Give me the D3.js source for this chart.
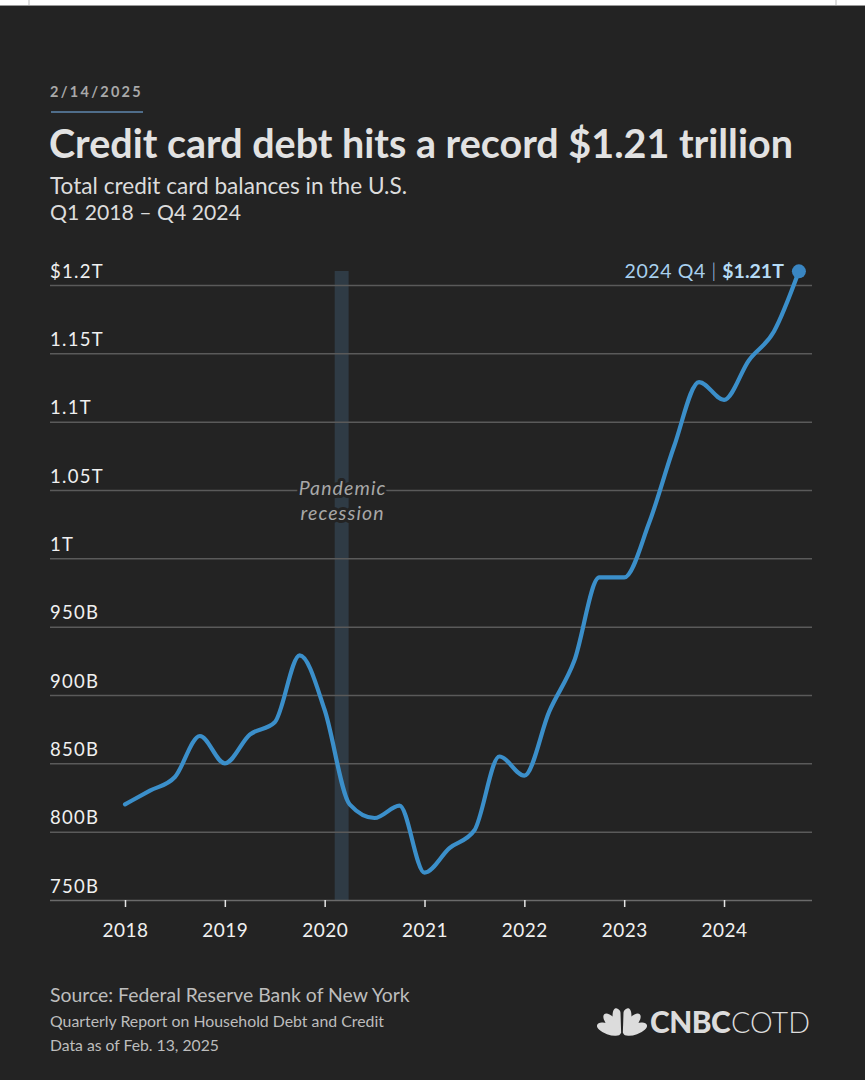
<!DOCTYPE html>
<html>
<head>
<meta charset="utf-8">
<script src="https://cdn.jsdelivr.net/npm/d3@7"></script>
<style>
  html, body { margin: 0; padding: 0; background: #fff; }
  svg { display: block; }
  text { font-family: Lato, "Open Sans", sans-serif; }
</style>
</head>
<body>
<svg id="chart" width="865" height="1080"></svg>
<script>
// ---------------- DATA ----------------
const years = [2018, 2019, 2020, 2021, 2022, 2023, 2024];
const quarters = ["Q1", "Q2", "Q3", "Q4"];
// Total credit card balances, billions of dollars, Q1 2018 – Q4 2024
const balances = [
  820, 830, 840, 870,
  850, 871, 880, 929,
  889, 820, 810, 819,
  770, 788, 801, 855,
  841, 888, 925, 986,
  986, 1026, 1082, 1129,
  1116, 1145, 1166, 1210
];
const yTicks = [750, 800, 850, 900, 950, 1000, 1050, 1100, 1150, 1200];
const yTickLabels = ["750B", "800B", "850B", "900B", "950B", "1T", "1.05T", "1.1T", "1.15T", "$1.2T"];
const recession = [2020.1, 2020.24];
const lastLabel = "2024 Q4";
const lastValueLabel = "$1.21T";

// build rows
const rows = balances.map((v, i) => ({
  t: years[0] + Math.floor(i / 4) + (i % 4) / 4,
  label: (years[0] + Math.floor(i / 4)) + " " + quarters[i % 4],
  v
}));

// ---------------- LAYOUT ----------------
const svg = d3.select("#chart");
const W = 865, H = 1080;
const BG = "#232323";

// top white strip
svg.append("rect").attr("x", 0).attr("y", 0).attr("width", W).attr("height", 6).attr("fill", "#ffffff");
svg.append("line").attr("x1", 29).attr("x2", 29).attr("y1", 0).attr("y2", 6).attr("stroke", "#bbb").attr("stroke-width", 1);
svg.append("line").attr("x1", 836).attr("x2", 836).attr("y1", 0).attr("y2", 6).attr("stroke", "#bbb").attr("stroke-width", 1);
svg.append("rect").attr("x", 0).attr("y", 6).attr("width", W).attr("height", H - 6).attr("fill", BG);
svg.append("line").attr("x1", 0).attr("x2", W).attr("y1", 5.5).attr("y2", 5.5).attr("stroke", "#999").attr("stroke-width", 1);

function fit(sel, target) {
  const n = sel.node();
  const w = n.getComputedTextLength();
  const fs = parseFloat(sel.attr("font-size"));
  sel.attr("font-size", (fs * target / w).toFixed(2));
}
// widen via letter-spacing to reach a target width
function spread(sel, target) {
  sel.each(function () {
    const t = d3.select(this);
    t.attr("letter-spacing", 0);
    const w = this.getComputedTextLength();
    const n = this.textContent.length;
    t.attr("letter-spacing", ((target(this.textContent) - w) / n).toFixed(2));
  });
}

// ---------------- HEADER ----------------
const date = svg.append("text").attr("x", 50).attr("y", 97)
  .attr("font-size", 14.5).attr("font-weight", 700).attr("fill", "#a9a9a9")
  .text("2/14/2025");
spread(date, () => 93);
svg.append("rect").attr("x", 51).attr("y", 111).attr("width", 92).attr("height", 2).attr("fill", "#4f6d8a");

const title = svg.append("text").attr("x", 49).attr("y", 158)
  .attr("font-size", 34).attr("font-weight", 700).attr("fill", "#e2e2e2")
  .text("Credit card debt hits a record $1.21 trillion");
fit(title, 744);

const sub1 = svg.append("text").attr("x", 50).attr("y", 194)
  .attr("font-size", 19).attr("fill", "#dcdcdc").text("Total credit card balances in the U.S.");
fit(sub1, 357);
const sub2 = svg.append("text").attr("x", 50).attr("y", 220)
  .attr("font-size", 19).attr("fill", "#dcdcdc").text("Q1 2018 \u2013 Q4 2024");
fit(sub2, 191);

// ---------------- SCALES ----------------
const x = d3.scaleLinear().domain([2018, 2024.75]).range([125, 798.9]);
const y = d3.scaleLinear().domain([750, 1200]).range([900, 285]);
const gridLeft = 50, gridRight = 812;

// recession band
svg.append("rect")
  .attr("x", x(recession[0])).attr("width", x(recession[1]) - x(recession[0]))
  .attr("y", 271).attr("height", y(750) - 271)
  .attr("fill", "#2f3b45");

// y grid + labels
const yAxis = d3.axisLeft(y)
  .tickValues(yTicks)
  .tickFormat((d, i) => yTickLabels[i])
  .tickSize(-(gridRight - gridLeft));
const gy = svg.append("g").attr("transform", `translate(${gridLeft},0)`).call(yAxis);
gy.select(".domain").remove();
gy.selectAll(".tick line").attr("stroke", "#5a5a5a").attr("stroke-width", 1.5);
const yLabels = gy.selectAll(".tick text")
  .attr("x", 0).attr("dy", null).attr("y", -8)
  .attr("text-anchor", "start")
  .attr("font-family", "Lato, sans-serif")
  .attr("font-size", 18.5).attr("fill", "#f0f0f0");
// widen labels to the reference's wide typeface
yLabels.each(function () {
  const t = d3.select(this);
  const n = this.textContent.length;
  t.attr("letter-spacing", 1.3);
});
gy.selectAll(".tick").filter(d => d === 750).select("line").attr("stroke", "#6a6a6a");

// x axis
const xAxis = d3.axisBottom(x).tickValues(years).tickFormat(d3.format("d")).tickSize(7).tickPadding(0);
const gx = svg.append("g").attr("transform", `translate(0,${y(750)})`).call(xAxis);
gx.select(".domain").remove();
gx.selectAll(".tick line").attr("stroke", "#e6e6e6").attr("stroke-width", 1.5);
gx.selectAll(".tick text")
  .attr("y", 37).attr("dy", null)
  .attr("font-family", "Lato, sans-serif")
  .attr("font-size", 19).attr("fill", "#f0f0f0")
  .attr("letter-spacing", 0.5);

// pandemic label
const px = x(2020.17) + 1;
const pl = svg.append("text").attr("x", px).attr("text-anchor", "middle")
  .attr("font-size", 19.5).attr("font-style", "italic").attr("fill", "#a8a8a8")
  .attr("letter-spacing", 1.1)
  .attr("stroke", BG).attr("stroke-width", 6).attr("paint-order", "stroke")
  .attr("stroke-linejoin", "round");
pl.append("tspan").attr("x", px).attr("y", 495).text("Pandemic");
pl.append("tspan").attr("x", px).attr("y", 520).text("recession");

// ---------------- LINE ----------------
const line = d3.line().x(d => x(d.t)).y(d => y(d.v)).curve(d3.curveMonotoneX);
svg.append("path").datum(rows)
  .attr("d", line)
  .attr("fill", "none")
  .attr("stroke", "#3b8fca")
  .attr("stroke-width", 4.2)
  .attr("stroke-linejoin", "round")
  .attr("stroke-linecap", "round");

const last = rows[rows.length - 1];
svg.append("circle").attr("cx", x(last.t)).attr("cy", y(last.v)).attr("r", 7).attr("fill", "#3a86c2");

const ann = svg.append("text").attr("x", x(last.t) - 15).attr("y", y(last.v) + 7)
  .attr("text-anchor", "end").attr("font-size", 19.5).attr("fill", "#a8d0ee")
  .attr("letter-spacing", 0.6);
ann.append("tspan").text(lastLabel + " ");
ann.append("tspan").attr("fill", "#a8d0ee").attr("font-weight", 300).text("|");
ann.append("tspan").text(" ");
ann.append("tspan").attr("font-weight", 700).attr("fill", "#b6dbf5").attr("letter-spacing", 0).text(lastValueLabel);

// ---------------- FOOTER ----------------
const s1 = svg.append("text").attr("x", 50).attr("y", 1002).attr("font-size", 17)
  .attr("fill", "#bdbdbd").text("Source: Federal Reserve Bank of New York");
fit(s1, 360);
const s2 = svg.append("text").attr("x", 50).attr("y", 1027).attr("font-size", 14)
  .attr("fill", "#bdbdbd").text("Quarterly Report on Household Debt and Credit");
fit(s2, 334);
const s3 = svg.append("text").attr("x", 50).attr("y", 1051).attr("font-size", 14)
  .attr("fill", "#bdbdbd").text("Data as of Feb. 13, 2025");
fit(s3, 169);

// logo
const logo = svg.append("g").attr("transform", "translate(622,1034)").attr("fill", "#dcdcdc");
const angles = [-70, -42, -14, 14, 42, 70];
angles.forEach(a => {
  logo.append("ellipse")
    .attr("cx", 0).attr("cy", -14).attr("rx", 5.4).attr("ry", 12.5)
    .attr("transform", `rotate(${a})`);
});
logo.append("path").attr("d", "M-1.6,-24 L1.6,-24 L0.8,0 L-0.8,0 Z").attr("fill", BG);
const cn = svg.append("text").attr("x", 650).attr("y", 1033).attr("font-size", 27)
  .attr("font-weight", 900).attr("fill", "#dcdcdc").attr("letter-spacing", -0.5).text("CNBC");
fit(cn, 80);
const co = svg.append("text").attr("x", 731).attr("y", 1033).attr("font-size", 27)
  .attr("font-weight", 300).attr("fill", "#dcdcdc").text("COTD");
fit(co, 79);
</script>
</body>
</html>
